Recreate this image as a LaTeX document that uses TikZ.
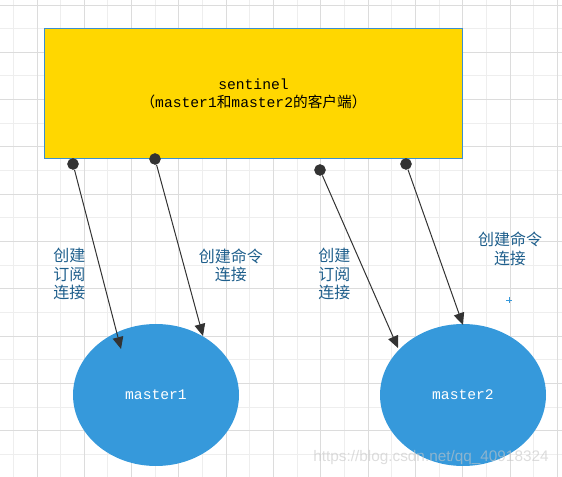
\documentclass[tikz,border=0pt]{standalone}
\usepackage{fontspec}
\setmonofont{Liberation Mono}
\setsansfont{Liberation Sans}
\newfontfamily\cjk{Noto Sans CJK SC}
\usetikzlibrary{arrows.meta,shapes.geometric}

\definecolor{gridmajor}{RGB}{220,220,220}
\definecolor{gridminor}{RGB}{238,238,238}
\definecolor{boxyellow}{RGB}{255,215,0}
\definecolor{boxline}{RGB}{58,143,208}
\definecolor{nodeblue}{RGB}{54,153,219}
\definecolor{labelblue}{RGB}{31,95,140}
\definecolor{linegray}{RGB}{51,51,51}

\tikzset{
  sentinelbox/.style={draw=boxline, line width=0.75pt, fill=boxyellow,
    minimum width=314pt, minimum height=97.5pt, inner sep=0pt, align=center,
    font=\fontsize{11}{13.5}\selectfont\ttfamily},
  masternode/.style={ellipse, fill=nodeblue, minimum width=124.5pt,
    minimum height=106.5pt, inner sep=0pt, text=white,
    font=\fontsize{11}{13.5}\selectfont\ttfamily},
  enddot/.style={circle, fill=linegray, minimum size=8.5pt, inner sep=0pt},
  conn/.style={draw=linegray, line width=0.75pt, -{Triangle[length=9pt,width=8pt]}},
  linklabel/.style={text=labelblue, font=\fontsize{12}{13.9}\selectfont\cjk, inner sep=0pt},
}

\begin{document}
\begin{tikzpicture}[x=0.75pt, y=-0.75pt]
\useasboundingbox (0,0) rectangle (562,477);

% 背景网格
\foreach \i in {0,...,11}
  \draw[gridminor, line width=0.7pt] ({13.35+47.3*\i},0) -- ({13.35+47.3*\i},477);
\foreach \i in {0,...,9}
  \draw[gridminor, line width=0.7pt] (0,{28.65+47.3*\i}) -- (562,{28.65+47.3*\i});
\foreach \i in {0,...,11}
  \draw[gridmajor, line width=0.7pt] ({37+47.3*\i},0) -- ({37+47.3*\i},477);
\foreach \i in {0,...,9}
  \draw[gridmajor, line width=0.7pt] (0,{5+47.3*\i}) -- (562,{5+47.3*\i});

% sentinel 与两个 master
\node[sentinelbox] (sentinel) at (253.5,94)
  {sentinel\\{\cjk （}master1{\cjk 和}master2{\cjk 的客户端）}};
\node[masternode] (master1) at (156,395) {master1};
\node[masternode] (master2) at (463,395) {master2};

% 连接
\node[enddot] (s1) at (73,164) {};
\node[enddot] (s2) at (155,159) {};
\node[enddot] (s3) at (320,170) {};
\node[enddot] (s4) at (406,164) {};
\coordinate (t1) at (121,349);
\coordinate (t2) at (203,336);
\coordinate (t3) at (398,348);
\coordinate (t4) at (463,325);
\draw[conn] (s1) -- (t1);
\draw[conn] (s2) -- (t2);
\draw[conn] (s3) -- (t3);
\draw[conn] (s4) -- (t4);
\node[enddot] at (s1) {};
\node[enddot] at (s2) {};
\node[enddot] at (s3) {};
\node[enddot] at (s4) {};

% 标注
\node[linklabel, anchor=west, align=left] (sub1) at (53,274) {创建\\订阅\\连接};
\node[linklabel, align=center] (cmd1) at (231,265.5) {创建命令\\连接};
\node[linklabel, anchor=west, align=left] (sub2) at (318,274) {创建\\订阅\\连接};
\node[linklabel, align=center] (cmd2) at (510,249) {创建命令\\连接};

\draw[nodeblue, line width=0.5pt] (506,300) -- (512,300) (509,297) -- (509,303);

\node[text=gray!45, opacity=0.6, font=\fontsize{11.5}{13}\selectfont\sffamily,
  inner sep=0pt] (mark) at (431,458) {https://blog.csdn.net/qq\_40918324};
\end{tikzpicture}
\end{document}
